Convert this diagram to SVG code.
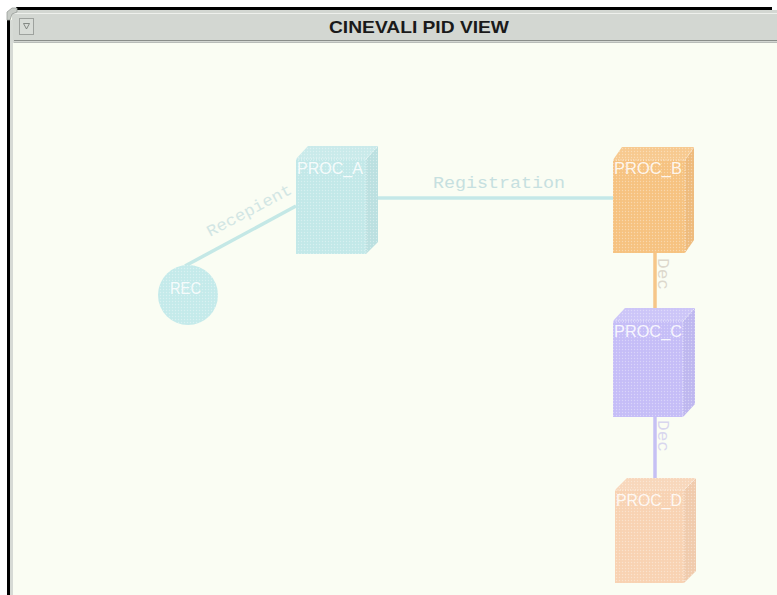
<svg xmlns="http://www.w3.org/2000/svg" width="777" height="595" viewBox="0 0 777 595">
  <defs>
    <!-- fine halftone grain laid over the node fills -->
    <pattern id="grain" width="3" height="3" patternUnits="userSpaceOnUse">
      <circle cx="1.5" cy="1.5" r="0.7" fill="#ffffff" fill-opacity="0.35"/>
    </pattern>
  </defs>
  <style>
    .title { font-family: "Liberation Sans", Arial, sans-serif; font-weight: bold; font-size: 17px; fill: #1a1a1a; }
    .nlabel { font-family: "Liberation Sans", Arial, sans-serif; font-size: 16px; fill: #ffffff; fill-opacity: 0.85; }
    .elabel { font-family: "Liberation Mono", "Courier New", monospace; font-size: 16px; }
    .edge { fill: none; stroke-width: 3.5; }
    .edgeline { fill: none; stroke: #ffffff; stroke-opacity: 0.7; stroke-width: 1; stroke-dasharray: 1 1.5; }
    .grain { fill: url(#grain); }
    .lit { fill: #ffffff; fill-opacity: 0.12; }
    .shade { fill: #000000; fill-opacity: 0.03; }
  </style>

  <!-- window frame -->
  <rect x="0" y="0" width="777" height="595" fill="#ffffff"/>
  <rect x="10" y="10" width="767" height="585" fill="#fafdf3"/>
  <rect x="12" y="10" width="765" height="33" fill="#d3d7d2"/>
  <line x1="14" y1="13.5" x2="777" y2="13.5" stroke="#eef0ec" stroke-width="1"/>
  <line x1="14" y1="40.5" x2="777" y2="40.5" stroke="#8a8e8a" stroke-width="1"/>
  <line x1="14" y1="42.5" x2="777" y2="42.5" stroke="#b8bcb8" stroke-width="1"/>
  <rect x="16" y="7" width="756" height="3" fill="#000000"/>
  <rect x="7" y="20" width="3" height="575" fill="#000000"/>
  <rect x="10" y="20" width="3" height="575" fill="#d6dad5"/>
  <!-- top-left corner notch -->
  <polygon points="7,20 7,12 12,8 17,8 17,12 12,14 10,20" fill="#c9cdc8" stroke="#9a9e9a" stroke-width="0.8"/>
  <!-- close box -->
  <rect x="19.5" y="18.5" width="14" height="16" fill="#d8dcd7" stroke="#9ea29e" stroke-width="1"/>
  <polygon points="23.5,23.5 29.5,23.5 26.5,29" fill="none" stroke="#6f736f" stroke-width="0.8"/>
  <text class="title" x="419" y="33" text-anchor="middle" textLength="180" lengthAdjust="spacingAndGlyphs">CINEVALI PID VIEW</text>

  <!-- connectors -->
  <g id="connectors">
    <line class="edge" x1="185" y1="266" x2="296" y2="206" stroke="#c4e8e6"/>
    <text class="elabel" fill="#d2e6e4" transform="translate(210,237) rotate(-28)" textLength="94" lengthAdjust="spacingAndGlyphs">Recepient</text>

    <line class="edge" x1="372" y1="198" x2="613" y2="198" stroke="#c4e8e8"/>
    <text class="elabel" fill="#c6e0e0" x="433" y="188" textLength="132" lengthAdjust="spacingAndGlyphs">Registration</text>

    <line class="edge" x1="655" y1="253" x2="655" y2="309" stroke="#f6c689"/>
    <text class="elabel" fill="#ddd8cc" transform="translate(658,258) rotate(90)" textLength="32" lengthAdjust="spacingAndGlyphs">Dec</text>

    <line class="edge" x1="655" y1="417" x2="655" y2="479" stroke="#c6c0f4"/>
    <text class="elabel" fill="#d8d6ee" transform="translate(658,420) rotate(90)" textLength="32" lengthAdjust="spacingAndGlyphs">Dec</text>
  </g>

  <!-- REC -->
  <g id="rec">
    <circle cx="188" cy="295" r="30" fill="#c4eaea"/>
    <circle class="grain" cx="188" cy="295" r="30"/>
    <text class="nlabel" x="170" y="294" textLength="31" lengthAdjust="spacingAndGlyphs">REC</text>
  </g>

  <!-- PROC_A -->
  <g id="proc_a">
    <rect x="296" y="159" width="70" height="95" fill="#c2e8e8"/>
    <polygon points="296,159 308,146 378,146 366,159" fill="#c2e8e8"/>
    <polygon points="366,159 378,146 378,242 366,254" fill="#c2e8e8"/>
    <polygon class="lit" points="296,159 308,146 378,146 366,159"/>
    <polygon class="shade" points="366,159 378,146 378,242 366,254"/>
    <polygon class="grain" points="296,159 308,146 378,146 378,242 366,254 296,254"/>
    <polyline class="edgeline" points="296,159 366,159 378,146"/>
    <line class="edgeline" x1="366" y1="159" x2="366" y2="254"/>
    <text class="nlabel" x="297" y="174" textLength="66" lengthAdjust="spacingAndGlyphs">PROC_A</text>
  </g>

  <!-- PROC_B -->
  <g id="proc_b">
    <rect x="613" y="160" width="72" height="93" fill="#f6c280"/>
    <polygon points="613,160 622,147 694,147 685,160" fill="#f6c280"/>
    <polygon points="685,160 694,147 694,240 685,253" fill="#f6c280"/>
    <polygon class="lit" points="613,160 622,147 694,147 685,160"/>
    <polygon class="shade" points="685,160 694,147 694,240 685,253"/>
    <polygon class="grain" points="613,160 622,147 694,147 694,240 685,253 613,253"/>
    <polyline class="edgeline" points="613,160 685,160 694,147"/>
    <line class="edgeline" x1="685" y1="160" x2="685" y2="253"/>
    <text class="nlabel" x="614" y="174" textLength="68" lengthAdjust="spacingAndGlyphs">PROC_B</text>
  </g>

  <!-- PROC_C -->
  <g id="proc_c">
    <rect x="613" y="321" width="70" height="96" fill="#c5bdf7"/>
    <polygon points="613,321 625,308 695,308 683,321" fill="#c5bdf7"/>
    <polygon points="683,321 695,308 695,404 683,417" fill="#c5bdf7"/>
    <polygon class="lit" points="613,321 625,308 695,308 683,321"/>
    <polygon class="shade" points="683,321 695,308 695,404 683,417"/>
    <polygon class="grain" points="613,321 625,308 695,308 695,404 683,417 613,417"/>
    <polyline class="edgeline" points="613,321 683,321 695,308"/>
    <line class="edgeline" x1="683" y1="321" x2="683" y2="417"/>
    <text class="nlabel" x="614" y="337" textLength="68" lengthAdjust="spacingAndGlyphs">PROC_C</text>
  </g>

  <!-- PROC_D -->
  <g id="proc_d">
    <rect x="615" y="490" width="69" height="93" fill="#f8d2b2"/>
    <polygon points="615,490 627,478 696,478 684,490" fill="#f8d2b2"/>
    <polygon points="684,490 696,478 696,571 684,583" fill="#f8d2b2"/>
    <polygon class="lit" points="615,490 627,478 696,478 684,490"/>
    <polygon class="shade" points="684,490 696,478 696,571 684,583"/>
    <polygon class="grain" points="615,490 627,478 696,478 696,571 684,583 615,583"/>
    <polyline class="edgeline" points="615,490 684,490 696,478"/>
    <line class="edgeline" x1="684" y1="490" x2="684" y2="583"/>
    <text class="nlabel" x="616" y="506" textLength="66" lengthAdjust="spacingAndGlyphs">PROC_D</text>
  </g>
</svg>
